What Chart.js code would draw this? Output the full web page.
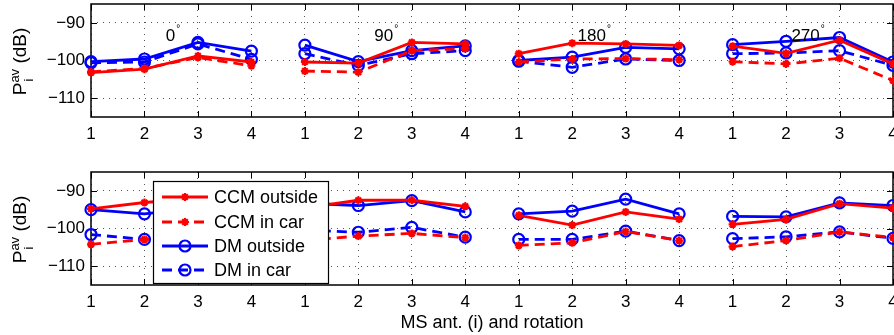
<!DOCTYPE html>
<html>
<head>
<meta charset="utf-8">
<script src="https://cdn.jsdelivr.net/npm/chart.js@4.4.1/dist/chart.umd.min.js"></script>
<style>
  html, body { margin: 0; padding: 0; background: #fff; overflow: hidden; }
  #wrap { position: relative; width: 894px; height: 335px; }
  canvas { position: absolute; left: 0; }
  #topChart { top: 0; }
  #bottomChart { top: 160px; }
</style>
</head>
<body>
<div id="wrap">
  <canvas id="topChart" width="894" height="145"></canvas>
  <canvas id="bottomChart" width="894" height="175"></canvas>
</div>
<script>
// antenna index shown on the x axis, repeated for each rotation
const antennaLabels = ['1', '2', '3', '4'];
const rotations = ['0', '90', '180', '270'];
const rotationLabelX = [2.4, 6.3, 10.1, 14.1];
const rotationLabelY = -93.7;
const yTicks = [-110, -100, -90];

// upper panel (dB)
const ccmOutsideTop = [-103.2, -102.3, -98.8, -100.4, -100.4, -100.7, -95.2, -95.6, -98.2, -95.4, -95.6, -96.0, -96.2, -98.1, -94.6, -100.9];
const ccmInCarTop   = [-103.0, -102.1, -99.2, -101.4, -102.8, -103.1, -97.4, -96.8, -100.4, -99.6, -99.5, -99.8, -100.3, -100.9, -99.4, -105.3];
const dmOutsideTop  = [-100.3, -99.6, -95.2, -97.5, -95.9, -100.3, -97.4, -96.1, -100.0, -99.1, -96.5, -96.9, -95.8, -94.9, -93.9, -100.4];
const dmInCarTop    = [-100.6, -100.4, -95.6, -99.7, -98.2, -101.3, -98.2, -97.4, -100.2, -101.8, -99.6, -100.0, -98.2, -98.0, -97.4, -101.3];

// lower panel (dB)
const ccmOutsideBot = [-94.8, -93.1, -92.0, -93.0, -94.5, -92.5, -92.5, -94.1, -96.5, -99.1, -95.6, -97.5, -98.9, -97.6, -93.4, -94.6];
const ccmInCarBot   = [-104.2, -102.9, -102.5, -103.0, -103.2, -102.0, -101.3, -102.4, -104.5, -103.8, -100.8, -103.2, -104.8, -103.2, -100.9, -102.4];
const dmOutsideBot  = [-95.0, -96.1, -94.5, -95.5, -93.3, -93.9, -92.6, -95.6, -96.1, -95.4, -92.2, -96.1, -96.8, -96.9, -93.2, -93.9];
const dmInCarBot    = [-101.6, -102.9, -102.0, -102.0, -100.4, -101.0, -99.7, -102.3, -102.9, -102.9, -100.7, -103.2, -102.7, -102.2, -100.9, -102.6];

const FONT = '"Liberation Sans", Arial, Helvetica, sans-serif';
const RED = '#ff0000';
const BLUE = '#0000ff';
const CLEAR = 'rgba(0,0,0,0)';
const DASH = [10, 6];
const groupSize = antennaLabels.length;
const positions = Array.from({ length: rotations.length * groupSize }, (_, i) => i + 1);

function series(label, values, color, dashed, marker) {
  return {
    label,
    data: values.map((v, i) => ({ x: positions[i], y: v })),
    borderColor: color,
    backgroundColor: CLEAR,
    borderWidth: 2.8,
    borderDash: dashed ? DASH : [],
    pointStyle: marker,
    pointRadius: marker === 'circle' ? 5.5 : 4,
    pointBorderWidth: 2.2,
    pointBorderColor: color,
    pointBackgroundColor: CLEAR,
    tension: 0,
    clip: false,
    // no line between the last antenna of one rotation and the first of the next
    segment: { borderColor: c => (c.p0DataIndex % groupSize === groupSize - 1 ? CLEAR : color) }
  };
}

// axes box and inward tick marks, MATLAB style
const framePlugin = {
  id: 'frame',
  beforeDatasetsDraw(chart) {
    const { ctx, chartArea: a, scales } = chart;
    ctx.save();
    ctx.strokeStyle = '#000';
    ctx.lineWidth = 1;
    ctx.beginPath();
    positions.forEach(v => {
      const x = Math.round(scales.x.getPixelForValue(v)) + 0.5;
      ctx.moveTo(x, a.bottom); ctx.lineTo(x, a.bottom - 6);
      ctx.moveTo(x, a.top); ctx.lineTo(x, a.top + 6);
    });
    yTicks.forEach(v => {
      const y = Math.round(scales.y.getPixelForValue(v)) + 0.5;
      ctx.moveTo(a.left, y); ctx.lineTo(a.left + 6, y);
      ctx.moveTo(a.right, y); ctx.lineTo(a.right - 6, y);
    });
    ctx.stroke();
    ctx.lineWidth = 1.5;
    ctx.strokeRect(a.left, a.top, a.right - a.left, a.bottom - a.top);
    ctx.restore();
  }
};

// rotated y label P_i^av (dB)
const yLabelPlugin = {
  id: 'yLabel',
  afterDraw(chart) {
    const { ctx, chartArea: a } = chart;
    const big = '19px ' + FONT;
    const small = '13px ' + FONT;
    ctx.save();
    ctx.translate(21, (a.top + a.bottom) / 2 + 1);
    ctx.rotate(-Math.PI / 2);
    ctx.fillStyle = '#000';
    ctx.textBaseline = 'middle';
    ctx.textAlign = 'left';
    ctx.font = big;
    const wP = ctx.measureText('P').width;
    const wRest = ctx.measureText(' (dB)').width;
    ctx.font = small;
    const wAv = ctx.measureText('av').width;
    let x = -(wP + wAv + wRest) / 2;
    ctx.font = big;
    ctx.fillText('P', x, 0);
    x += wP;
    ctx.font = small;
    ctx.fillText('av', x, -6);
    ctx.fillText('i', x + 1, 8);
    x += wAv;
    ctx.font = big;
    ctx.fillText(' (dB)', x, 0);
    ctx.restore();
  }
};

// rotation angle notes in the upper panel
const rotationPlugin = {
  id: 'rotationNotes',
  afterDatasetsDraw(chart) {
    const { ctx, scales } = chart;
    ctx.save();
    ctx.fillStyle = '#000';
    ctx.textBaseline = 'middle';
    ctx.textAlign = 'left';
    rotations.forEach((r, i) => {
      const x = scales.x.getPixelForValue(rotationLabelX[i]);
      const y = scales.y.getPixelForValue(rotationLabelY);
      ctx.font = '17px ' + FONT;
      ctx.fillText(r, x, y);
      const w = ctx.measureText(r).width;
      ctx.font = '10px ' + FONT;
      ctx.fillText('\u00b0', x + w + 1, y - 8);
    });
    ctx.restore();
  }
};

// boxed legend drawn over the lower panel
const legendPlugin = {
  id: 'boxLegend',
  afterDraw(chart) {
    const { ctx } = chart;
    const box = { x: 153, y: 21, w: 175, h: 102 };
    const rowY = [37, 62, 86, 110];
    ctx.save();
    ctx.fillStyle = '#fff';
    ctx.fillRect(box.x, box.y, box.w, box.h);
    ctx.strokeStyle = '#000';
    ctx.lineWidth = 1.2;
    ctx.strokeRect(box.x + 0.5, box.y + 0.5, box.w, box.h);
    chart.data.datasets.forEach((ds, i) => {
      const y = rowY[i];
      ctx.save();
      ctx.strokeStyle = ds.borderColor;
      ctx.lineWidth = ds.borderWidth;
      ctx.setLineDash(ds.borderDash);
      ctx.beginPath();
      ctx.moveTo(162, y);
      ctx.lineTo(208, y);
      ctx.stroke();
      ctx.setLineDash([]);
      ctx.fillStyle = CLEAR;
      ctx.lineWidth = ds.pointBorderWidth;
      Chart.helpers.drawPoint(ctx, { pointStyle: ds.pointStyle, radius: ds.pointRadius, borderWidth: ds.pointBorderWidth, rotation: 0 }, 185, y);
      ctx.restore();
      ctx.fillStyle = '#000';
      ctx.font = '18px ' + FONT;
      ctx.textBaseline = 'middle';
      ctx.textAlign = 'left';
      ctx.fillText(ds.label, 214, y + 1);
    });
    ctx.restore();
  }
};

// x label under the lower panel
const xLabelPlugin = {
  id: 'xLabel',
  afterDraw(chart) {
    const { ctx, chartArea: a } = chart;
    ctx.save();
    ctx.fillStyle = '#000';
    ctx.font = '18px ' + FONT;
    ctx.textAlign = 'center';
    ctx.textBaseline = 'middle';
    ctx.fillText('MS ant. (i) and rotation', (a.left + a.right) / 2, 163);
    ctx.restore();
  }
};

function makeChart(id, datasets, padTop, axisHeight, extraPlugins) {
  const tickFont = { family: FONT, size: 17 };
  const grid = { color: '#555', lineWidth: 1, drawTicks: false };
  return new Chart(document.getElementById(id).getContext('2d'), {
    type: 'line',
    data: { datasets },
    options: {
      responsive: false,
      animation: false,
      layout: { autoPadding: false, padding: { top: padTop, right: 1, left: 0, bottom: 0 } },
      plugins: { legend: { display: false }, tooltip: { enabled: false } },
      scales: {
        x: {
          type: 'linear', min: 1, max: positions.length,
          afterBuildTicks: s => { s.ticks = positions.map(v => ({ value: v })); },
          ticks: {
            callback: v => antennaLabels[(v - 1) % groupSize],
            font: tickFont, color: '#000', padding: 7, maxRotation: 0, autoSkip: false
          },
          grid,
          border: { display: false, dash: [1, 5] },
          afterFit: s => { s.height = axisHeight; s.paddingLeft = 0; s.paddingRight = 0; }
        },
        y: {
          min: -115, max: -85,
          afterBuildTicks: s => { s.ticks = yTicks.map(v => ({ value: v })); },
          ticks: { callback: v => '\u2212' + Math.abs(v), font: tickFont, color: '#000', padding: 6 },
          grid,
          border: { display: false, dash: [1, 5] },
          afterFit: s => { s.width = 91; s.paddingTop = 0; s.paddingBottom = 0; }
        }
      }
    },
    plugins: [framePlugin, yLabelPlugin].concat(extraPlugins)
  });
}

makeChart('topChart', [
  series('CCM outside', ccmOutsideTop, RED, false, 'star'),
  series('CCM in car', ccmInCarTop, RED, true, 'star'),
  series('DM outside', dmOutsideTop, BLUE, false, 'circle'),
  series('DM in car', dmInCarTop, BLUE, true, 'circle')
], 4, 28, [rotationPlugin]);

makeChart('bottomChart', [
  series('CCM outside', ccmOutsideBot, RED, false, 'star'),
  series('CCM in car', ccmInCarBot, RED, true, 'star'),
  series('DM outside', dmOutsideBot, BLUE, false, 'circle'),
  series('DM in car', dmInCarBot, BLUE, true, 'circle')
], 12, 50, [legendPlugin, xLabelPlugin]);
</script>
</body>
</html>
